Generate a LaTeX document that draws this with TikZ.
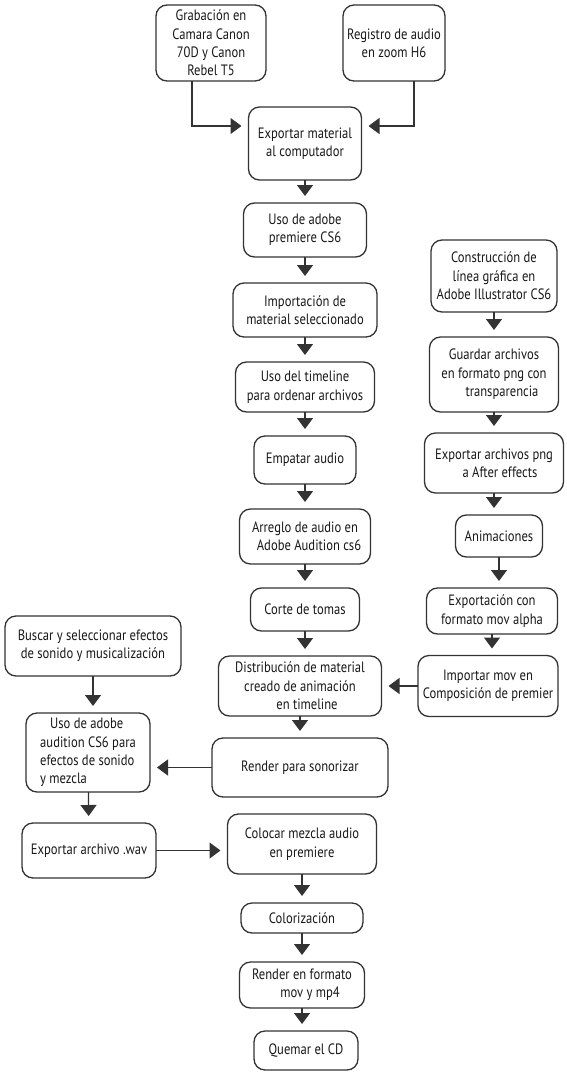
\documentclass[tikz,border=0pt]{standalone}
\usepackage{fontspec}
\usetikzlibrary{arrows.meta}
\newfontfamily\stepfont{PT Sans}[FakeStretch=0.84]
\newcommand{\flowfont}{\stepfont\fontsize{7.5pt}{9.2pt}\selectfont}

\begin{document}
\begin{tikzpicture}[x=0.5pt,y=-0.5pt]
  \tikzset{BoxStyle/.style = {
    shape           = rectangle,
    rounded corners = 5.5pt,
    draw            = black!80,
    fill            = white,
    line width      = 0.65pt,
    text            = black!90,
    align           = center,
    inner sep       = 1pt,
    outer sep       = 0pt,
    font            = \flowfont
    }
  }
  \tikzset{EdgeStyle/.style = {
    draw            = black!80,
    line width      = 0.65pt,
    -{Triangle[width=8pt,length=5.5pt]},
    shorten >       = 3.5pt
    }
  }
  \useasboundingbox (0,0) rectangle (567,1072);

  % top inputs
  \node[BoxStyle, minimum width=55pt, minimum height=38pt](A1) at (211, 43) {Grabación en\\Camara Canon\\70D y Canon\\Rebel T5};
  \node[BoxStyle, minimum width=51pt, minimum height=38pt](A2) at (394, 43) {Registro de audio\\en zoom H6};

  % main column
  \node[BoxStyle, minimum width=56.5pt, minimum height=36.5pt](M1) at (305, 143.5) {Exportar material\\al computador};
  \node[BoxStyle, minimum width=61.5pt, minimum height=27pt](M2) at (305, 230) {Uso de adobe\\premiere CS6};
  \node[BoxStyle, minimum width=72pt, minimum height=27pt](M3) at (305, 310) {Importación de\\material seleccionado};
  \node[BoxStyle, minimum width=69.5pt, minimum height=25pt](M4) at (305, 387) {Uso del timeline\\para ordenar archivos};
  \node[BoxStyle, minimum width=51pt, minimum height=24pt](M5) at (305, 460) {Empatar audio};
  \node[BoxStyle, minimum width=65.5pt, minimum height=27.5pt](M6) at (305, 536.5) {Arreglo de audio en\\\hspace*{4pt}Adobe Audition cs6};
  \node[BoxStyle, minimum width=54.5pt, minimum height=21.5pt](M7) at (305, 609.5) {Corte de tomas};
  \node[BoxStyle, minimum width=81.5pt, minimum height=30pt](M8) at (300, 686) {Distribución de material\\creado de animación\hspace*{3pt}\\\hspace*{7pt}en timeline};
  \node[BoxStyle, minimum width=88pt, minimum height=29.5pt](M9) at (300, 767.5) {Render para sonorizar};
  \node[BoxStyle, minimum width=74.5pt, minimum height=30pt](M10) at (302, 844) {Colocar mezcla audio\\en premiere};
  \node[BoxStyle, minimum width=61pt, minimum height=15pt](M11) at (302, 918) {Colorización};
  \node[BoxStyle, minimum width=62.5pt, minimum height=23pt](M12) at (302, 985) {Render en formato\\\hspace*{8pt}mov y mp4};
  \node[BoxStyle, minimum width=52pt, minimum height=19.5pt](M13) at (306, 1050.5) {Quemar el CD};

  % right column
  \node[BoxStyle, minimum width=63pt, minimum height=36pt](R1) at (494, 276) {Construcción de\\línea gráfica en\\Adobe Illustrator CS6};
  \node[BoxStyle, minimum width=64.5pt, minimum height=37.5pt](R2) at (494, 374.5) {Guardar archivos\\en formato png con\\\hspace*{8pt}transparencia};
  \node[BoxStyle, minimum width=69.5pt, minimum height=30pt](R3) at (494, 463) {Exportar archivos png\\\hspace*{6pt}a After effects};
  \node[BoxStyle, minimum width=43.5pt, minimum height=21pt](R4) at (499, 536) {Animaciones};
  \node[BoxStyle, minimum width=65.5pt, minimum height=23pt](R5) at (492, 611) {Exportación con\\formato mov alpha};
  \node[BoxStyle, minimum width=70pt, minimum height=30.5pt](R6) at (488, 686) {Importar mov en\\Composición de premier};

  % left column
  \node[BoxStyle, minimum width=88pt, minimum height=30pt](L1) at (93, 646) {Buscar y seleccionar efectos\\de sonido y musicalización};
  \node[BoxStyle, minimum width=62pt, minimum height=39.5pt, align=left](L2) at (88, 752.5) {\hspace*{5pt}Uso de adobe\\audition CS6 para\\efectos de sonido\\y mezcla};
  \node[BoxStyle, minimum width=67pt, minimum height=27.5pt](L3) at (89, 850.5) {Exportar archivo .wav};

  % connectors
  \draw[EdgeStyle]([xshift=-9.5pt]A1.south) |- ([yshift=8.75pt]M1.west);
  \draw[EdgeStyle]([xshift=10pt]A2.south) |- ([yshift=8.75pt]M1.east);
  \draw[EdgeStyle](M1) to (M2);
  \draw[EdgeStyle](M2) to (M3);
  \draw[EdgeStyle](M3) to (M4);
  \draw[EdgeStyle](M4) to (M5);
  \draw[EdgeStyle](M5) to (M6);
  \draw[EdgeStyle](M6) to (M7);
  \draw[EdgeStyle](M7.south) to (M7.south |- M8.north);
  \draw[EdgeStyle](M8.south) to (M8.south |- M9.north);
  \draw[EdgeStyle](M10) to (M11);
  \draw[EdgeStyle](M11) to (M12);
  \draw[EdgeStyle](M12.south) to (M12.south |- M13.north);
  \draw[EdgeStyle](R1.south) to (R1.south |- R2.north);
  \draw[EdgeStyle](R2) to (R3);
  \draw[EdgeStyle](R3.south) to (R3.south |- R4.north);
  \draw[EdgeStyle](R4.south) to (R4.south |- R5.north);
  \draw[EdgeStyle](R5.south) to (R5.south |- R6.north);
  \draw[EdgeStyle](R6) to (M8);
  \draw[EdgeStyle](L1.south) to (L1.south |- L2.north);
  \draw[EdgeStyle](L2) to (L3);
  \draw[EdgeStyle](M9.west) to (M9.west -| L2.east);
  \draw[EdgeStyle](L3.east) to (L3.east -| M10.west);

\end{tikzpicture}
\end{document}
